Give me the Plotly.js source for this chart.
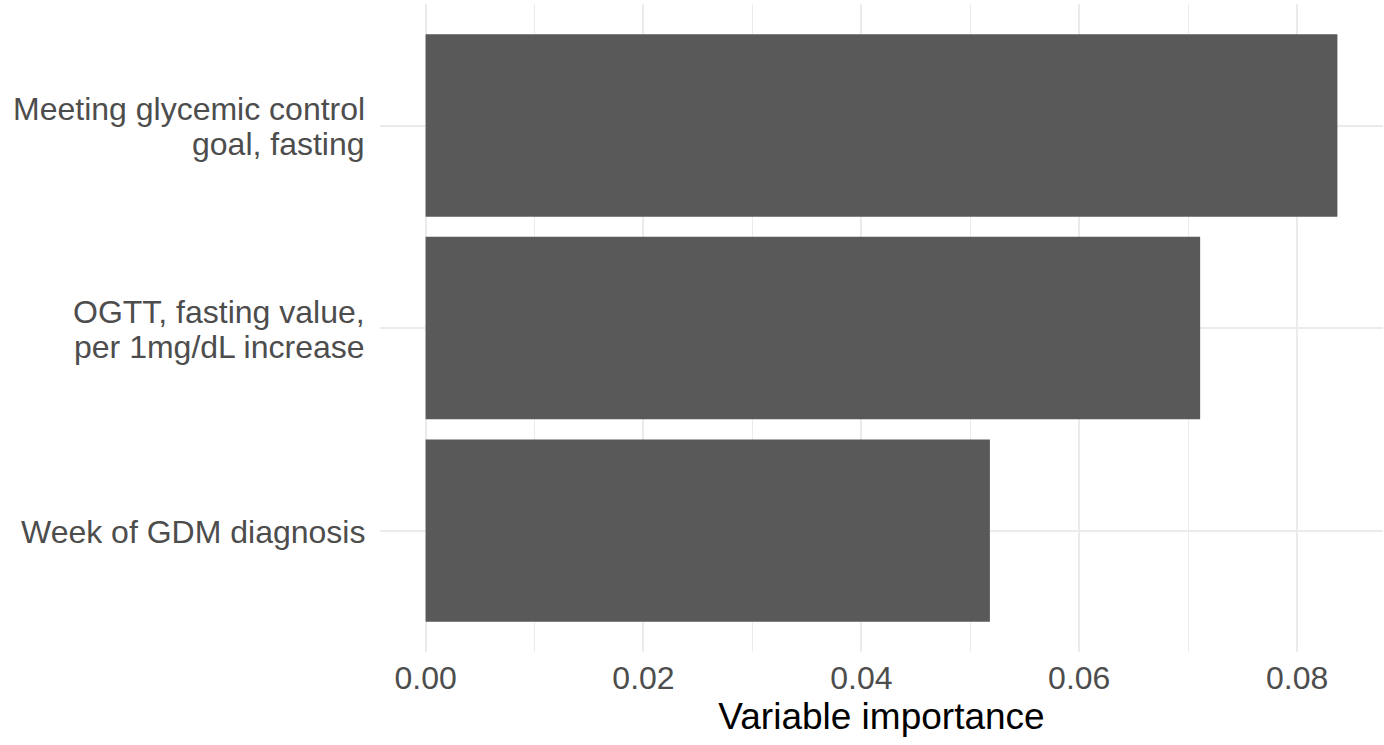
<!DOCTYPE html>
<html>
<head>
<meta charset="utf-8">
<script src="https://cdn.plot.ly/plotly-3.0.1.min.js"></script>
<style>html,body{margin:0;padding:0;background:#fff;}#chart{width:1384px;height:745px;}</style>
</head>
<body>
<div id="chart"></div>
<script>
const categories = ["Week of GDM diagnosis", "OGTT, fasting value,<br>per 1mg/dL increase", "Meeting glycemic control<br>goal, fasting"];
const importance = [0.0518, 0.0711, 0.0837];
const tickValues = [0, 0.02, 0.04, 0.06, 0.08];
const tickLabels = ["0.00", "0.02", "0.04", "0.06", "0.08"];

const maxVal = Math.max(...importance);
const font = "Liberation Sans, Arial, Helvetica, sans-serif";
const labelSize = 32;
const lineGap = 35;

// Category labels drawn as annotations (one per line) for ggplot-like line spacing
const annotations = [];
categories.forEach(function (cat) {
  const lines = cat.split("<br>");
  const n = lines.length;
  lines.forEach(function (line, i) {
    annotations.push({
      xref: "paper", yref: "y",
      x: 0, y: cat,
      xanchor: "right", yanchor: "middle",
      xshift: -13,
      yshift: ((n - 1) / 2 - i) * lineGap - 1,
      text: line,
      showarrow: false,
      align: "right",
      font: {family: font, size: labelSize, color: "#4d4d4d"}
    });
  });
});

Plotly.newPlot("chart", [{
  type: "bar",
  orientation: "h",
  x: importance,
  y: categories,
  width: 0.9,
  marker: {color: "#595959", line: {width: 0}},
  hoverinfo: "x+y"
}], {
  width: 1384, height: 745,
  margin: {l: 380, r: 1, t: 4, b: 93},
  paper_bgcolor: "#ffffff",
  plot_bgcolor: "#ffffff",
  showlegend: false,
  font: {family: font, color: "#4d4d4d", size: labelSize},
  annotations: annotations,
  xaxis: {
    range: [-0.05 * maxVal, 1.05 * maxVal],
    tickmode: "array",
    tickvals: tickValues,
    ticktext: tickLabels,
    showgrid: true,
    gridcolor: "#ebebeb",
    gridwidth: 2,
    minor: {dtick: 0.01, tick0: 0, showgrid: true, gridcolor: "#ebebeb", gridwidth: 1.2},
    zeroline: false,
    showline: false,
    ticks: "",
    ticklabelstandoff: 4,
    tickfont: {family: font, size: labelSize, color: "#4d4d4d"},
    title: {text: "Variable importance", font: {family: font, size: 37, color: "#000000"}, standoff: 8}
  },
  yaxis: {
    type: "category",
    categoryorder: "array",
    categoryarray: categories,
    range: [-0.6, 2.6],
    showgrid: true,
    gridcolor: "#ebebeb",
    gridwidth: 2,
    zeroline: false,
    showline: false,
    ticks: "",
    showticklabels: false
  }
}, {displayModeBar: false, staticPlot: true});
</script>
</body>
</html>
